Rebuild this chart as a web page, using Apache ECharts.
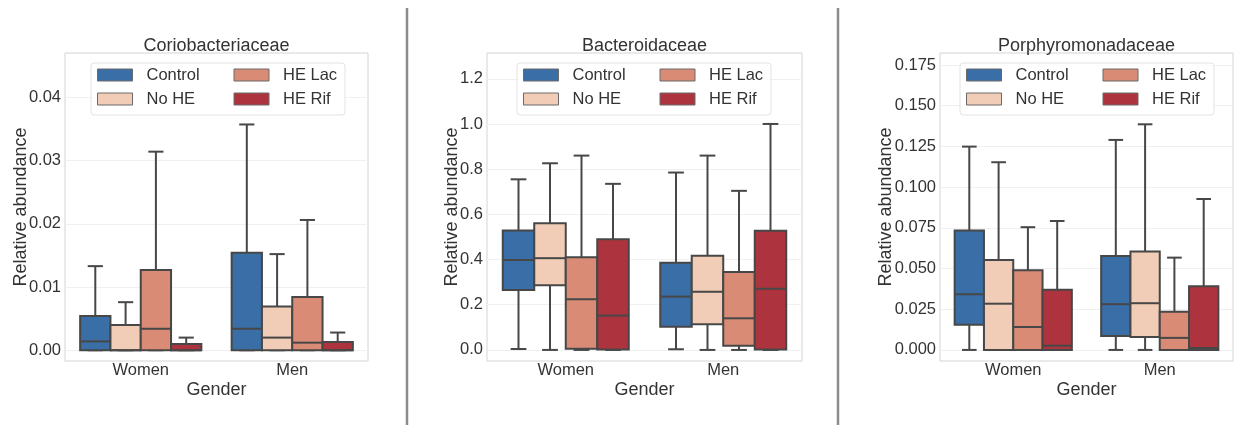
<!DOCTYPE html>
<html><head><meta charset="utf-8">
<script src="https://cdn.jsdelivr.net/npm/echarts@6/dist/echarts.min.js"></script>
<style>html,body{margin:0;padding:0;background:#fff}#c{width:1236px;height:425px}</style>
</head><body><div id="c"></div>
<script>
// ---------- data ----------
const genders = ['Women', 'Men'];
const groups = ['Control', 'No HE', 'HE Lac', 'HE Rif'];
const groupColors = ['#3a6ea7', '#f1ccb6', '#d98b76', '#ad343e'];
const panelTitles = ['Coriobacteriaceae', 'Bacteroidaceae', 'Porphyromonadaceae'];

// box statistics [min, q1, median, q3, max], one row per group (Control, No HE, HE Lac, HE Rif)
const corioWomen = [
  [0, 0, 0.0014, 0.0054, 0.0133],
  [0, 0, 0.0000, 0.0040, 0.0076],
  [0, 0, 0.0034, 0.0127, 0.0314],
  [0, 0, 0.0000, 0.0010, 0.0020]
];
const corioMen = [
  [0, 0, 0.0034, 0.0154, 0.0357],
  [0, 0, 0.0020, 0.0069, 0.0152],
  [0, 0, 0.0012, 0.0084, 0.0206],
  [0, 0, 0.0000, 0.0013, 0.0028]
];
const bacteroWomen = [
  [0.004, 0.265, 0.398, 0.528, 0.755],
  [0.000, 0.286, 0.406, 0.561, 0.826],
  [0.000, 0.005, 0.224, 0.410, 0.860],
  [0.000, 0.002, 0.152, 0.490, 0.735]
];
const bacteroMen = [
  [0.003, 0.103, 0.236, 0.386, 0.785],
  [0.000, 0.114, 0.258, 0.417, 0.860],
  [0.000, 0.019, 0.140, 0.345, 0.704],
  [0.000, 0.002, 0.271, 0.527, 1.000]
];
const porphyroWomen = [
  [0, 0.0154, 0.0342, 0.0733, 0.1249],
  [0, 0.0000, 0.0284, 0.0553, 0.1153],
  [0, 0.0000, 0.0141, 0.0490, 0.0754],
  [0, 0.0000, 0.0026, 0.0369, 0.0792]
];
const porphyroMen = [
  [0, 0.0086, 0.0281, 0.0577, 0.1290],
  [0, 0.0080, 0.0287, 0.0604, 0.1386],
  [0, 0.0000, 0.0074, 0.0235, 0.0567],
  [0, 0.0000, 0.0012, 0.0391, 0.0927]
];

const yTicksCorio = [0, 0.01, 0.02, 0.03, 0.04];
const yTicksBactero = [0, 0.2, 0.4, 0.6, 0.8, 1.0, 1.2];
const yTicksPorphyro = [0, 0.025, 0.05, 0.075, 0.1, 0.125, 0.15, 0.175];

// ---------- layout ----------
const FONT = "'Liberation Sans', Arial, sans-serif";
const TXT = '#333333';
const EDGE = '#474747';
const panels = [
  { title: panelTitles[0], women: corioWomen, men: corioMen, ticks: yTicksCorio, dec: 2,
    min: -0.0017, max: 0.047, left: 65, width: 303, nameGap: 35, legendLeft: 91 },
  { title: panelTitles[1], women: bacteroWomen, men: bacteroMen, ticks: yTicksBactero, dec: 1,
    min: -0.049, max: 1.314, left: 487, width: 315, nameGap: 26, legendLeft: 517 },
  { title: panelTitles[2], women: porphyroWomen, men: porphyroMen, ticks: yTicksPorphyro, dec: 3,
    min: -0.0068, max: 0.1824, left: 940, width: 293, nameGap: 45, legendLeft: 960 }
];
const TOP = 53, HEIGHT = 308;

function makeRender(hueIdx, color) {
  return function (params, api) {
    const cat = api.value(0);
    const band = api.size([1, 0])[0];
    const boxW = band * 0.8 / groups.length;
    const cx = api.coord([cat, 0])[0] + (hueIdx - (groups.length - 1) / 2) * boxW;
    const yv = i => api.coord([cat, api.value(i)])[1];
    const yMin = yv(1), yQ1 = yv(2), yMed = yv(3), yQ3 = yv(4), yMax = yv(5);
    const x0 = cx - boxW / 2;
    const cap = boxW / 4;
    const ls = { stroke: EDGE, lineWidth: 2, fill: null };
    return {
      type: 'group',
      children: [
        { type: 'line', shape: { x1: cx, y1: yQ1, x2: cx, y2: yMin }, style: ls },
        { type: 'line', shape: { x1: cx, y1: yQ3, x2: cx, y2: yMax }, style: ls },
        { type: 'line', shape: { x1: cx - cap, y1: yMin, x2: cx + cap, y2: yMin }, style: ls },
        { type: 'line', shape: { x1: cx - cap, y1: yMax, x2: cx + cap, y2: yMax }, style: ls },
        { type: 'rect', shape: { x: x0, y: yQ3, width: boxW, height: yQ1 - yQ3 },
          style: { fill: color, stroke: EDGE, lineWidth: 2 } },
        { type: 'line', shape: { x1: x0, y1: yMed, x2: x0 + boxW, y2: yMed }, style: ls }
      ]
    };
  };
}

const option = {
  animation: false,
  backgroundColor: '#ffffff',
  textStyle: { fontFamily: FONT, color: TXT },
  title: [], grid: [], xAxis: [], yAxis: [], legend: [], series: [],
  graphic: [
    { type: 'line', shape: { x1: 407, y1: 8, x2: 407, y2: 425 }, style: { stroke: '#8c8c8c', lineWidth: 2.5 } },
    { type: 'line', shape: { x1: 838, y1: 8, x2: 838, y2: 425 }, style: { stroke: '#8c8c8c', lineWidth: 2.5 } }
  ]
};

panels.forEach((p, pi) => {
  option.title.push({
    text: p.title, left: p.left + p.width / 2, top: 37, padding: 0,
    textAlign: 'center', textVerticalAlign: 'top',
    textStyle: { fontFamily: FONT, fontSize: 18, fontWeight: 'normal', color: TXT }
  });
  option.grid.push({
    left: p.left, top: TOP, width: p.width, height: HEIGHT, show: true,
    borderColor: '#d4d4d4', borderWidth: 1, backgroundColor: 'transparent'
  });
  option.xAxis.push({
    type: 'category', gridIndex: pi, data: genders, boundaryGap: true,
    name: 'Gender', nameLocation: 'middle', nameGap: 20, nameMoveOverlap: false,
    nameTextStyle: { fontFamily: FONT, fontSize: 18, color: TXT },
    axisLine: { show: false }, axisTick: { show: false }, splitLine: { show: false },
    axisLabel: { fontFamily: FONT, fontSize: 16.5, color: TXT, margin: 1 }
  });
  option.yAxis.push({
    type: 'value', gridIndex: pi, min: p.min, max: p.max,
    name: 'Relative abundance', nameLocation: 'middle', nameGap: p.nameGap, nameMoveOverlap: false,
    nameTextStyle: { fontFamily: FONT, fontSize: 18, color: TXT },
    axisLine: { show: false },
    axisTick: { show: false, customValues: p.ticks },
    axisLabel: { fontFamily: FONT, fontSize: 16.5, color: TXT, margin: 4,
      customValues: p.ticks, formatter: v => Number(v).toFixed(p.dec) },
    splitLine: { show: true, lineStyle: { color: '#f0f0f0', width: 1 } }
  });
  const order = [0, 2, 1, 3];
  option.legend.push({
    left: p.legendLeft, top: 63, width: 250,
    orient: 'horizontal', itemGap: 6, itemWidth: 35, itemHeight: 12,
    padding: [3, 6, 7, 6],
    backgroundColor: 'rgba(255,255,255,0.85)', borderColor: '#e3e3e3', borderWidth: 1, borderRadius: 3,
    icon: 'rect', selectedMode: false,
    textStyle: { fontFamily: FONT, fontSize: 16.5, color: TXT, lineHeight: 18, padding: [0, 0, 0, 9] },
    data: order.map((gi, k) => ({
      name: groups[gi],
      itemStyle: { color: groupColors[gi], borderColor: '#6a6a6a', borderWidth: 1 },
      textStyle: { width: (k % 2 === 0) ? 81 : 56 }
    }))
  });
  groups.forEach((g, gi) => {
    option.series.push({
      type: 'custom', name: g, xAxisIndex: pi, yAxisIndex: pi,
      color: groupColors[gi],
      itemStyle: { color: groupColors[gi], borderColor: '#6a6a6a', borderWidth: 1 },
      renderItem: makeRender(gi, groupColors[gi]),
      encode: { x: 0, y: [1, 2, 3, 4, 5] },
      data: [[0].concat(p.women[gi]), [1].concat(p.men[gi])]
    });
  });
});

const chart = echarts.init(document.getElementById('c'), null, { renderer: 'canvas' });
chart.setOption(option);
</script>
</body></html>
